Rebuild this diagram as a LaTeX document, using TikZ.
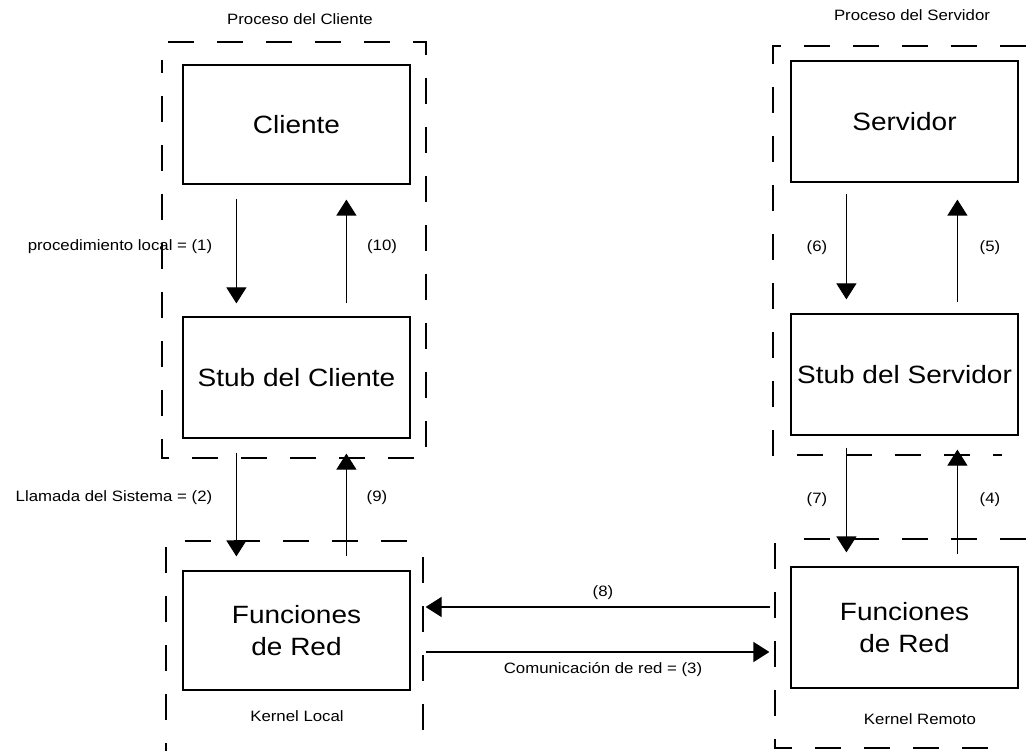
\documentclass[tikz,border=0pt]{standalone}
\usepackage{fontspec}
\setmainfont{Liberation Sans}[FakeStretch=1.12]
\usetikzlibrary{arrows.meta}
\begin{document}
\begin{tikzpicture}[x=1pt,y=-1pt,
  box/.style={draw,line width=1.2pt,inner sep=0pt,minimum width=227pt,font=\fontsize{25}{32}\selectfont,align=center},
  lbl/.style={font=\fontsize{15}{18}\selectfont,inner sep=0pt},
  dline/.style={line width=1.2pt,dash pattern=on 26pt off 23pt},
  arr/.style={line width=1.2pt,-{Triangle[width=20pt,length=16pt]}}]
\useasboundingbox (0,0) rectangle (1026,751);
% boxes
\node[box,minimum height=119pt] (cli) at (296.5,124.5) {Cliente};
\node[box,minimum height=121pt] (stc) at (296.5,377.5) {Stub del Cliente};
\node[box,minimum height=119pt] (frl) at (296.5,630.5) {Funciones\\de Red};
\node[box,minimum height=121pt] (srv) at (904.5,121.5) {Servidor};
\node[box,minimum height=121pt] (sts) at (904.5,374.5) {Stub del Servidor};
\node[box,minimum height=121pt] (frr) at (904.5,627.5) {Funciones\\de Red};
% group titles
\node[lbl] (t1) at (300,19) {Proceso del Cliente};
\node[lbl] (t2) at (912,15) {Proceso del Servidor};
\node[lbl] (t3) at (297,716) {Kernel Local};
\node[lbl] (t4) at (920,719) {Kernel Remoto};
% arrow labels
\node[lbl] (l1) at (120,247) {procedimiento local = (1)};
\node[lbl] (l10) at (382,247) {(10)};
\node[lbl] (l2) at (114,498) {Llamada del Sistema = (2)};
\node[lbl] (l9) at (377,498) {(9)};
\node[lbl] (l6) at (817,248) {(6)};
\node[lbl] (l5) at (990,248) {(5)};
\node[lbl] (l7) at (817,500) {(7)};
\node[lbl] (l4) at (990,500) {(4)};
\node[lbl] (l8) at (603,593) {(8)};
\node[lbl] (l3) at (603,670) {Comunicación de red = (3)};
% dashed groups
\draw[dline] (168,42) -- (426,42) -- (426,458) -- (162,458) -- (162,60);
\draw[dline] (185,541) -- (413,541);
\draw[dline] (166,547) -- (166,751);
\draw[dline] (423,557) -- (423,751);
\draw[dline] (1026,46) -- (773,46) -- (773,455) -- (1002,455);
\draw[dline] (1026,539) -- (793,539);
\draw[dline] (775,543) -- (775,748) -- (1005,748);
% vertical arrows left
\draw[arr,shorten <=14pt,shorten >=13pt] ([xshift=54pt]cli.south west) -- ([xshift=54pt]stc.north west);
\draw[arr,shorten <=13pt,shorten >=15pt] ([xshift=164pt]stc.north west) -- ([xshift=164pt]cli.south west);
\draw[arr,shorten <=14pt,shorten >=14pt] ([xshift=54pt]stc.south west) -- ([xshift=54pt]frl.north west);
\draw[arr,shorten <=14pt,shorten >=15pt] ([xshift=164pt]frl.north west) -- ([xshift=164pt]stc.south west);
% vertical arrows right
\draw[arr,shorten <=11pt,shorten >=14pt] ([xshift=56pt]srv.south west) -- ([xshift=56pt]sts.north west);
\draw[arr,shorten <=11pt,shorten >=17pt] ([xshift=167pt]sts.north west) -- ([xshift=167pt]srv.south west);
\draw[arr,shorten <=12pt,shorten >=14pt] ([xshift=56pt]sts.south west) -- ([xshift=56pt]frr.north west);
\draw[arr,shorten <=12pt,shorten >=14pt] ([xshift=167pt]frr.north west) -- ([xshift=167pt]sts.south west);
% horizontal arrows
\coordinate (y8) at (0,607);
\coordinate (y3) at (0,652);
\draw[arr,shorten <=20pt,shorten >=15pt] (frr.west |- y8) -- (frl.east |- y8);
\draw[arr,shorten <=15pt,shorten >=21pt] (frl.east |- y3) -- (frr.west |- y3);
\end{tikzpicture}
\end{document}
